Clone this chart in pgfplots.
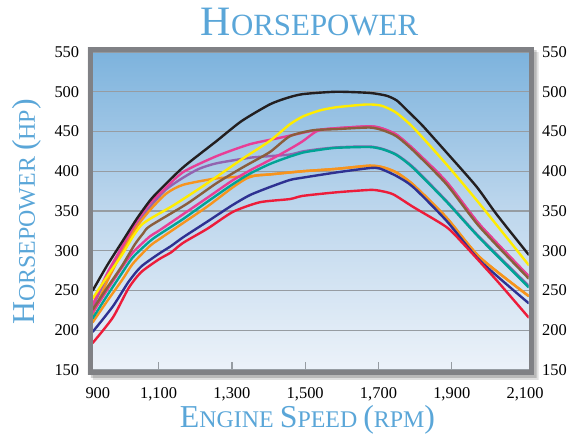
\documentclass[border=0pt]{standalone}
\usepackage{pgfplots}
\pgfplotsset{compat=1.18}
\usepackage{fontspec}
\setmainfont{Liberation Serif}
\definecolor{tblue}{RGB}{90,166,216}
\definecolor{framegray}{RGB}{128,129,133}
\definecolor{gridgray}{RGB}{150,156,162}
\definecolor{bg0}{RGB}{251,252,254}
\definecolor{bg1}{RGB}{236,242,249}
\definecolor{bg2}{RGB}{190,215,237}
\definecolor{bg3}{RGB}{125,179,221}
\definecolor{bg4}{RGB}{70,157,214}
\pgfdeclareverticalshading{bgshade}{100bp}{color(0bp)=(bg0); color(25bp)=(bg1); color(50bp)=(bg2); color(75bp)=(bg3); color(100bp)=(bg4)}
\definecolor{cblack}{RGB}{35,31,32}
\definecolor{cyellow}{RGB}{255,236,0}
\definecolor{cpink}{RGB}{232,62,150}
\definecolor{cbrown}{RGB}{139,94,60}
\definecolor{cpurple}{RGB}{146,100,176}
\definecolor{cteal}{RGB}{0,163,150}
\definecolor{corange}{RGB}{247,148,29}
\definecolor{cnavy}{RGB}{46,49,146}
\definecolor{cred}{RGB}{237,28,58}
\newcommand\bigf{\fontsize{32}{32}\selectfont}
\newcommand\smf{\fontsize{24}{24}\selectfont}
\begin{document}
\begin{tikzpicture}
\begin{axis}[
  scale only axis, width=436bp, height=318bp,
  xmin=920, xmax=2110, ymin=150, ymax=550,
  axis line style={draw=none},
  axis background/.style={shading=bgshade},
  ytick={150,200,...,550},
  ymajorgrids, grid style={gridgray, line width=1.3bp},
  ytick style={draw=none},
  xtick={1100,1300,1500,1700,1900},
  xticklabels={{1,100},{1,300},{1,500},{1,700},{1,900}},
  extra x ticks={934,2100},
  extra x tick labels={900,{2,100}},
  extra x tick style={xtick style={draw=none}, grid=none},
  xtick pos=left, tick align=inside, major tick length=8bp,
  xtick style={draw=gridgray, line width=1.2bp},
  tick label style={font=\fontsize{16.5}{16.5}\selectfont, /pgf/number format/assume math mode=true},
  yticklabel style={xshift=-10bp},
  xticklabel style={yshift=-14bp},
  every axis plot/.append style={line width=2.4bp, smooth, tension=0.4, line join=round, line cap=round},
]
% purple
\addplot[cpurple] coordinates {(920,229) (960,268) (1000,300) (1040,332) (1076,355) (1120,377) (1167,392) (1210,403) (1258,410) (1349,417) (1403,419) (1458,421) (1494,425) (1540,428) (1585,430) (1640,431) (1680,431) (1712,428) (1749,421) (1795,405) (1885,363) (1976,317) (2110,256)};
% orange 1
\addplot[corange] coordinates {(920,220) (960,262) (1000,298) (1040,330) (1076,351) (1121,372) (1167,383) (1258,391) (1349,394) (1403,396) (1493,400) (1585,403) (1676,407) (1712,405) (1749,398.5) (1795,383) (1885,342) (1976,292) (2110,243)};
% orange 2
\addplot[corange] coordinates {(920,210) (960,237) (1000,263) (1030,284) (1076,306) (1100,314) (1167,335) (1234,356) (1300,379) (1340,391) (1370,395) (1403,396) (1493,400) (1585,403) (1676,407) (1712,405) (1749,398.5) (1795,383) (1885,342) (1976,292) (2110,243)};
% pink 1
\addplot[cpink] coordinates {(920,232) (960,272) (1000,305) (1040,337) (1076,360) (1110,375) (1167,399) (1258,419) (1349,434) (1430,442) (1521,451) (1567,453.5) (1676,456.5) (1712,453.5) (1749,446) (1795,428) (1885,387) (1976,333) (2110,268)};
% pink 2
\addplot[cpink] coordinates {(920,222) (960,251) (1000,279) (1030,298) (1076,318) (1100,325) (1167,346) (1234,367) (1300,388) (1349,401) (1403,414) (1458,428) (1494,438) (1530,450) (1567,453.5) (1676,456.5) (1712,453.5) (1749,446) (1795,428) (1885,387) (1976,333) (2110,268)};
% teal
\addplot[cteal] coordinates {(920,215) (960,244) (1000,272) (1030,292) (1076,312) (1100,320) (1167,340) (1234,362) (1300,383) (1349,397) (1403,409) (1449,417) (1494,423.5) (1540,427) (1585,429.5) (1676,430.5) (1712,427.5) (1749,420.5) (1795,404) (1885,362) (1976,316) (2110,254)};
% brown
\addplot[cbrown] coordinates {(920,226) (960,254) (1000,281) (1035,308) (1058,322) (1076,331) (1177,359) (1258,385) (1330,405) (1403,424) (1458,444) (1521,451.5) (1585,453) (1676,455) (1712,451.5) (1749,444) (1795,426) (1885,384) (1976,330) (2110,265)};
% navy
\addplot[cnavy] coordinates {(920,198) (975,230) (1018,261) (1052,280) (1100,296) (1134,306) (1167,317) (1234,337) (1300,357) (1349,370) (1403,380) (1458,389) (1494,392) (1585,398.5) (1676,404) (1703,403.5) (1749,394) (1795,380) (1885,338) (1976,288) (2110,234)};
% red
\addplot[cred] coordinates {(920,184) (975,216) (1018,253) (1052,273) (1100,289) (1134,298) (1167,310) (1234,328) (1303,349) (1376,361) (1458,365) (1493,369) (1585,373.5) (1676,376.5) (1703,375.5) (1740,371) (1795,355) (1885,330) (1931,309) (2022,263) (2110,216)};
% yellow
\addplot[cyellow] coordinates {(920,240) (960,268) (1000,295) (1030,318) (1052,332) (1076,340) (1140,357) (1207,377) (1258,393) (1330,416) (1403,438) (1458,459) (1494,469) (1540,476.5) (1585,480.5) (1667,484) (1703,483) (1722,480) (1749,473.5) (1795,455) (1885,409) (1976,359) (2110,282)};
% black
\addplot[cblack] coordinates {(920,250) (960,282) (1000,311) (1040,340) (1076,363) (1102,376) (1167,405) (1258,438) (1326,463) (1403,484) (1449,492) (1493,497) (1585,500) (1676,498.5) (1722,495) (1750,489) (1775,478) (1795,469) (1821,457) (1885,424) (1967,381) (2022,346) (2110,295)};
\end{axis}
\begin{axis}[
  scale only axis, width=436bp, height=318bp,
  xmin=920, xmax=2110, ymin=150, ymax=550,
  axis line style={draw=none},
  xtick=\empty,
  ytick={150,200,...,550},
  yticklabel pos=right,
  ytick style={draw=none},
  tick label style={font=\fontsize{16.5}{16.5}\selectfont, /pgf/number format/assume math mode=true},
  yticklabel style={xshift=10bp},
]
\end{axis}
% shadow
\fill[black, opacity=0.12, even odd rule] (-4.8bp+5bp,-4.8bp-5bp) rectangle (440.8bp+5bp,322.8bp-5bp) (-4.8bp,-4.8bp) rectangle (440.8bp,322.8bp);
\fill[black, opacity=0.18, even odd rule] (-4.8bp+3bp,-4.8bp-3bp) rectangle (440.8bp+3bp,322.8bp-3bp) (-4.8bp,-4.8bp) rectangle (440.8bp,322.8bp);
% frame
\draw[framegray, line width=4.8bp] (-2.4bp,-2.4bp) rectangle (438.4bp,320.4bp);
% titles
\node[anchor=base, text=tblue, inner sep=0pt] at (216.8bp,334bp) {\fontsize{42}{42}\selectfont H\fontsize{31}{31}\selectfont ORSEPOWER};
\node[anchor=base, text=tblue, rotate=90, inner sep=0pt] at (-57.7bp,158bp) {\bigf H\smf ORSEPOWER \bigf(\smf HP\bigf)};
\node[anchor=base, text=tblue, inner sep=0pt] at (214.8bp,-57bp) {\bigf E\smf NGINE \bigf S\smf PEED \bigf(\smf RPM\bigf)};
\pgfresetboundingbox
\path[use as bounding box] (-92.7bp,-67bp) rectangle ++(581bp,437bp);
\end{tikzpicture}
\end{document}
